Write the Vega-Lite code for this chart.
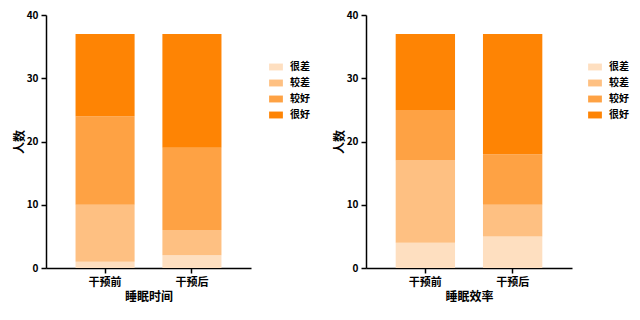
{
  "$schema": "https://vega.github.io/schema/vega-lite/v6.json",
  "background": "white",
  "padding": {"left": 13, "top": 10, "right": 5, "bottom": 5},
  "spacing": 23,
  "config": {
    "font": "Noto Sans CJK SC",
    "view": {"stroke": null},
    "axis": {
      "domainColor": "#000000", "domainWidth": 1.5, "tickColor": "#000000", "tickWidth": 1.5, "tickSize": 5,
      "labelColor": "#000000", "labelFont": "Noto Sans CJK SC", "labelFontWeight": "bold", "labelFontSize": 10,
      "titleColor": "#000000", "titleFont": "Noto Sans CJK SC", "titleFontWeight": "bold", "titleFontSize": 12,
      "grid": false
    },
    "legend": {
      "labelFont": "Noto Sans CJK SC", "labelFontSize": 10, "labelFontWeight": "bold", "labelColor": "#000000",
      "symbolType": "M-1,-0.5H1V0.5H-1Z", "symbolSize": 190, "symbolStrokeWidth": 0, "symbolOpacity": 1,
      "rowPadding": 4, "labelOffset": 7
    }
  },
  "datasets": {
    "sleepTime": [
      {"group": "干预前", "level": "很差", "count": 1, "o": 1},
      {"group": "干预前", "level": "较差", "count": 9, "o": 2},
      {"group": "干预前", "level": "较好", "count": 14, "o": 3},
      {"group": "干预前", "level": "很好", "count": 13, "o": 4},
      {"group": "干预后", "level": "很差", "count": 2, "o": 1},
      {"group": "干预后", "level": "较差", "count": 4, "o": 2},
      {"group": "干预后", "level": "较好", "count": 13, "o": 3},
      {"group": "干预后", "level": "很好", "count": 18, "o": 4}
    ],
    "sleepEff": [
      {"group": "干预前", "level": "很差", "count": 4, "o": 1},
      {"group": "干预前", "level": "较差", "count": 13, "o": 2},
      {"group": "干预前", "level": "较好", "count": 8, "o": 3},
      {"group": "干预前", "level": "很好", "count": 12, "o": 4},
      {"group": "干预后", "level": "很差", "count": 5, "o": 1},
      {"group": "干预后", "level": "较差", "count": 5, "o": 2},
      {"group": "干预后", "level": "较好", "count": 8, "o": 3},
      {"group": "干预后", "level": "很好", "count": 19, "o": 4}
    ]
  },
  "resolve": {"legend": {"color": "independent"}, "scale": {"color": "independent", "y": "independent", "x": "independent"}},
  "hconcat": [
    {
      "width": 205, "height": 253,
      "data": {"name": "sleepTime"},
      "mark": {"type": "bar"},
      "encoding": {
        "x": {"field": "group", "type": "nominal", "sort": ["干预前", "干预后"], "title": "睡眠时间",
              "scale": {"paddingInner": 0.32, "paddingOuter": 0.34},
              "axis": {"labelAngle": 0, "labelPadding": 3, "titlePadding": 4, "labelFontSize": 11}},
        "y": {"field": "count", "type": "quantitative", "stack": "zero", "title": "人数",
              "scale": {"domain": [0, 40], "nice": false},
              "axis": {"values": [0, 10, 20, 30, 40], "titlePadding": 0, "labelPadding": 3}},
        "color": {"field": "level", "type": "nominal", "title": null,
                  "scale": {"domain": ["很差", "较差", "较好", "很好"], "range": ["#FEDFC0", "#FEC082", "#FEA244", "#FE8404"]},
                  "legend": {"orient": "none", "legendX": 223, "legendY": 45}},
        "order": {"field": "o", "type": "quantitative", "sort": "ascending"}
      }
    },
    {
      "width": 206, "height": 253,
      "data": {"name": "sleepEff"},
      "mark": {"type": "bar"},
      "encoding": {
        "x": {"field": "group", "type": "nominal", "sort": ["干预前", "干预后"], "title": "睡眠效率",
              "scale": {"paddingInner": 0.32, "paddingOuter": 0.34},
              "axis": {"labelAngle": 0, "labelPadding": 3, "titlePadding": 4, "labelFontSize": 11}},
        "y": {"field": "count", "type": "quantitative", "stack": "zero", "title": "人数",
              "scale": {"domain": [0, 40], "nice": false},
              "axis": {"values": [0, 10, 20, 30, 40], "titlePadding": 0, "labelPadding": 3}},
        "color": {"field": "level", "type": "nominal", "title": null,
                  "scale": {"domain": ["很差", "较差", "较好", "很好"], "range": ["#FEDFC0", "#FEC082", "#FEA244", "#FE8404"]},
                  "legend": {"orient": "none", "legendX": 222, "legendY": 45}},
        "order": {"field": "o", "type": "quantitative", "sort": "ascending"}
      }
    }
  ]
}
